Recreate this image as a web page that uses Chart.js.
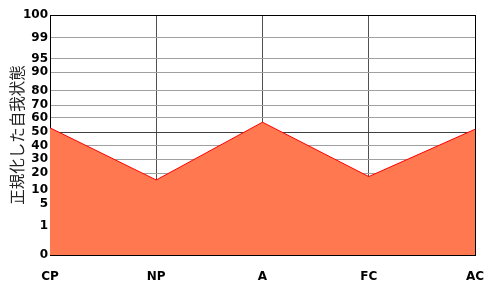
<!DOCTYPE html>
<html lang="ja">

<head>
    <meta charset="UTF-8">
    <script src="https://cdn.jsdelivr.net/npm/chart.js"></script>
    <title>自我状態</title>
    <style>
        body { margin: 0; background: #fff; }
    </style>
</head>

<body>
    <canvas id="egogram" width="500" height="300"></canvas>
</body>

</html>
<script>
    // categories and values (percentile of each ego state)
    const estados = ['CP', 'NP', 'A', 'FC', 'AC'];
    const valores = [53, 16, 57, 18, 52];

    // y axis tick labels and where they sit (fraction of the axis height)
    const ticksY = [0, 1, 5, 10, 20, 30, 40, 50, 60, 70, 80, 90, 95, 99, 100];
    const alturaTick = [0, .120, .212, .270, .341, .400, .455, .512, .571, .625, .685, .761, .817, .905, 1];

    function warp(v) {
        if (v <= ticksY[0]) return 0;
        for (let i = 1; i < ticksY.length; i++) {
            if (v <= ticksY[i]) {
                const t = (v - ticksY[i - 1]) / (ticksY[i] - ticksY[i - 1]);
                return alturaTick[i - 1] + t * (alturaTick[i] - alturaTick[i - 1]);
            }
        }
        return 1;
    }

    function unwarp(d) {
        for (let i = 1; i < alturaTick.length; i++) {
            if (d <= alturaTick[i]) {
                const t = (d - alturaTick[i - 1]) / (alturaTick[i] - alturaTick[i - 1]);
                return ticksY[i - 1] + t * (ticksY[i] - ticksY[i - 1]);
            }
        }
        return 100;
    }

    // linear scale with a bent percentile axis
    class PercentScale extends Chart.LinearScale {
        buildTicks() {
            return ticksY.map(v => ({ value: v }));
        }
        getPixelForValue(v) {
            return v === null ? NaN : this.getPixelForDecimal(warp(v));
        }
        getValueForPixel(p) {
            return unwarp(this.getDecimalForPixel(p));
        }
    }
    PercentScale.id = 'percent';
    PercentScale.defaults = Chart.LinearScale.defaults;
    Chart.register(PercentScale);

    const fonte = { family: 'DejaVu Sans', size: 12, weight: 'bold' };

    const grafico = document.getElementById('egogram');
    var ego = new Chart(grafico, {
        type: 'line',
        data: {
            labels: estados,
            datasets: [{
                data: valores,
                borderColor: '#ff0000',
                borderWidth: 1,
                backgroundColor: 'rgb(255,120,80)',
                fill: 'start',
                pointRadius: 0,
                tension: 0
            }]
        },
        options: {
            responsive: false,
            animation: false,
            layout: { padding: { top: 15, right: 25, left: 0, bottom: 0 } },
            plugins: {
                legend: { display: false },
                tooltip: { enabled: false }
            },
            scales: {
                x: {
                    z: 1,
                    offset: false,
                    afterFit: s => { s.height = 45; },
                    grid: {
                        drawTicks: false,
                        color: c => (c.index === 0 || c.index === estados.length - 1) ? '#000' : '#505050'
                    },
                    border: { display: true, color: '#000' },
                    ticks: { color: '#000', font: fonte, padding: 15, maxRotation: 0 }
                },
                y: {
                    type: 'percent',
                    z: 1,
                    min: 0,
                    max: 100,
                    afterFit: s => { s.width = 50; },
                    grid: {
                        drawTicks: false,
                        color: c => {
                            const v = c.tick.value;
                            if (v === 0 || v === 100) return '#000';
                            if (v === 50) return '#404040';
                            return '#a0a0a0';
                        }
                    },
                    border: { display: true, color: '#000' },
                    ticks: { color: '#000', font: fonte, padding: 2, autoSkip: false },
                    title: {
                        display: true,
                        text: '正規化した自我状態',
                        color: '#222',
                        font: { family: 'Noto Sans CJK JP', size: 15.5 },
                        padding: { top: 8, bottom: 0 }
                    }
                }
            }
        }
    });
</script>
